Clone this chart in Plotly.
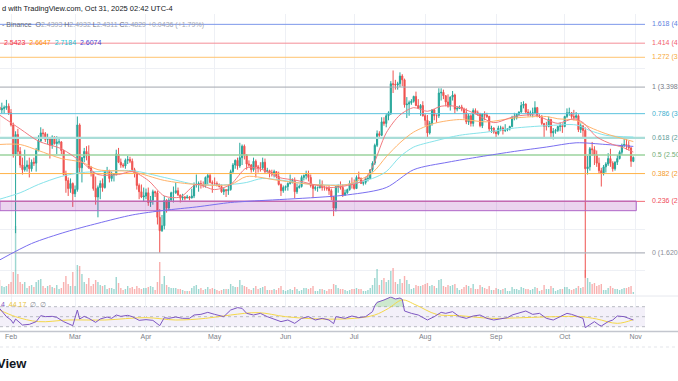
import math
import pandas as pd
import plotly.graph_objects as go

# ---------------- data (XRPUSD, Binance, daily) ----------------
dates = pd.date_range("2025-01-27", "2025-10-31", freq="D")

open_p = [
    3.11, 3.07, 3.09, 3.10, 3.12,
    3.03, 2.87, 2.52, 2.75, 2.55, 2.40, 2.35, 2.38, 2.40, 2.36, 2.43, 2.42, 2.56, 2.67, 2.77, 2.76, 2.69, 2.70, 2.62, 2.72, 2.64, 2.66, 2.66, 2.56, 2.30, 2.24, 2.16, 2.21,
    2.11, 2.15, 2.87, 2.37, 2.48, 2.55, 2.52, 2.37, 2.32, 2.16, 2.08, 2.17, 2.21, 2.17, 2.34, 2.34, 2.26, 2.30, 2.30, 2.52, 2.43, 2.40, 2.39, 2.45, 2.46, 2.44, 2.35, 2.31, 2.19, 2.13, 2.08,
    2.09, 2.12, 2.03, 2.05, 2.13, 2.12, 1.90, 1.79, 1.83, 2.05, 1.98, 2.05, 2.12, 2.12, 2.14, 2.10, 2.07, 2.08, 2.07, 2.08, 2.07, 2.09, 2.20, 2.20, 2.21, 2.20, 2.19, 2.27, 2.29, 2.22,
    2.21, 2.21, 2.20, 2.18, 2.13, 2.15, 2.14, 2.15, 2.33, 2.40, 2.45, 2.39, 2.48, 2.61, 2.51, 2.41, 2.40, 2.35, 2.44, 2.38, 2.37, 2.37, 2.43, 2.33, 2.34, 2.32, 2.31, 2.33, 2.28, 2.20, 2.14,
    2.17, 2.18, 2.21, 2.22, 2.24, 2.13, 2.17, 2.18, 2.27, 2.29, 2.30, 2.27, 2.19, 2.16, 2.17, 2.17, 2.20, 2.17, 2.17, 2.16, 2.14, 2.08, 1.98, 2.18, 2.18, 2.17, 2.10, 2.12, 2.15, 2.21,
    2.20, 2.16, 2.27, 2.26, 2.21, 2.22, 2.26, 2.26, 2.35, 2.42, 2.62, 2.76, 2.74, 2.91, 2.89, 2.99, 3.03, 3.45, 3.44, 3.43, 3.45, 3.57, 3.51, 3.14, 3.15, 3.17, 3.19, 3.26, 3.13, 3.09, 3.13,
    2.99, 2.93, 2.77, 2.89, 3.07, 2.99, 2.99, 3.31, 3.32, 3.27, 3.18, 3.12, 3.25, 3.28, 3.08, 3.09, 3.11, 3.08, 3.03, 2.91, 2.99, 2.89, 3.06, 3.03, 3.01, 2.86, 3.01, 3.00, 2.98, 2.82, 2.83,
    2.78, 2.76, 2.83, 2.83, 2.80, 2.81, 2.82, 2.85, 2.96, 2.96, 3.01, 3.04, 3.13, 3.15, 3.04, 3.01, 3.03, 3.03, 3.10, 2.98, 2.98, 2.89, 2.85, 2.85, 2.94, 2.77, 2.79, 2.80, 2.85, 2.86,
    2.85, 2.98, 3.03, 3.03, 2.98, 2.97, 2.99, 2.81, 2.86, 2.80, 2.36, 2.38, 2.58, 2.57, 2.51, 2.42, 2.34, 2.31, 2.38, 2.41, 2.47, 2.42, 2.36, 2.43, 2.47, 2.54, 2.62, 2.63, 2.62, 2.59, 2.4393,
]
high_p = [
    3.14, 3.17, 3.13, 3.21, 3.16,
    3.08, 2.90, 2.79, 2.82, 2.60, 2.48, 2.57, 2.45, 2.48, 2.46, 2.48, 2.59, 2.74, 2.84, 2.82, 2.78, 2.76, 2.72, 2.74, 2.73, 2.73, 2.72, 2.67, 2.57, 2.34, 2.27, 2.26, 2.22,
    2.19, 2.98, 2.89, 2.49, 2.59, 2.61, 2.62, 2.39, 2.33, 2.28, 2.19, 2.24, 2.26, 2.34, 2.38, 2.35, 2.33, 2.31, 2.57, 2.59, 2.47, 2.42, 2.47, 2.50, 2.49, 2.47, 2.37, 2.33, 2.21, 2.20, 2.17,
    2.16, 2.17, 2.09, 2.15, 2.14, 2.14, 1.97, 1.92, 2.09, 2.06, 2.07, 2.13, 2.18, 2.22, 2.17, 2.10, 2.11, 2.09, 2.10, 2.09, 2.16, 2.22, 2.30, 2.23, 2.24, 2.23, 2.28, 2.31, 2.31, 2.24,
    2.27, 2.23, 2.21, 2.20, 2.17, 2.15, 2.20, 2.35, 2.42, 2.46, 2.48, 2.65, 2.63, 2.63, 2.52, 2.45, 2.41, 2.48, 2.46, 2.40, 2.43, 2.48, 2.47, 2.37, 2.35, 2.35, 2.35, 2.33, 2.33, 2.21, 2.19,
    2.19, 2.22, 2.30, 2.26, 2.27, 2.21, 2.20, 2.29, 2.30, 2.34, 2.34, 2.30, 2.20, 2.19, 2.18, 2.25, 2.24, 2.19, 2.18, 2.19, 2.16, 2.09, 2.18, 2.20, 2.23, 2.20, 2.15, 2.16, 2.24, 2.27,
    2.25, 2.29, 2.33, 2.27, 2.23, 2.27, 2.30, 2.35, 2.44, 2.64, 2.80, 2.79, 2.97, 2.97, 3.02, 3.05, 3.49, 3.66, 3.51, 3.48, 3.63, 3.60, 3.53, 3.25, 3.20, 3.22, 3.27, 3.33, 3.22, 3.15, 3.19,
    3.02, 3.00, 2.92, 3.07, 3.08, 3.01, 3.38, 3.38, 3.36, 3.28, 3.29, 3.26, 3.34, 3.30, 3.12, 3.13, 3.14, 3.10, 3.09, 3.02, 3.01, 3.09, 3.09, 3.06, 3.03, 3.02, 3.05, 3.03, 2.99, 2.86, 2.84,
    2.79, 2.86, 2.86, 2.85, 2.88, 2.83, 2.86, 2.99, 3.03, 3.02, 3.05, 3.18, 3.19, 3.16, 3.08, 3.06, 3.10, 3.19, 3.11, 3.01, 3.00, 2.89, 2.91, 2.98, 2.95, 2.83, 2.82, 2.86, 2.90, 2.89,
    2.99, 3.09, 3.10, 3.04, 3.07, 3.04, 3.01, 2.89, 2.86, 2.84, 2.50, 2.60, 2.66, 2.61, 2.56, 2.48, 2.37, 2.40, 2.43, 2.53, 2.58, 2.44, 2.44, 2.51, 2.56, 2.64, 2.70, 2.70, 2.67, 2.60, 2.4932,
]
low_p = [
    2.76, 3.02, 3.02, 3.07, 3.00,
    2.85, 2.48, 1.77, 2.50, 2.37, 2.30, 2.33, 2.33, 2.27, 2.33, 2.39, 2.33, 2.55, 2.66, 2.71, 2.66, 2.63, 2.47, 2.58, 2.63, 2.52, 2.63, 2.52, 2.29, 2.12, 2.09, 2.12, 1.99,
    2.08, 2.13, 2.32, 2.22, 2.43, 2.45, 2.36, 2.28, 2.14, 2.01, 1.90, 2.06, 2.13, 2.16, 2.30, 2.22, 2.23, 2.23, 2.29, 2.42, 2.37, 2.37, 2.36, 2.41, 2.42, 2.33, 2.27, 2.15, 2.06, 2.07, 2.04,
    2.06, 2.00, 1.99, 2.01, 2.08, 1.84, 1.6205, 1.78, 1.80, 1.94, 1.96, 2.05, 2.03, 2.11, 2.09, 2.03, 2.05, 2.05, 2.07, 2.05, 2.07, 2.07, 2.17, 2.13, 2.16, 2.17, 2.17, 2.20, 2.21, 2.12,
    2.19, 2.18, 2.17, 2.12, 2.10, 2.08, 2.10, 2.14, 2.31, 2.36, 2.35, 2.37, 2.40, 2.46, 2.35, 2.38, 2.32, 2.33, 2.27, 2.32, 2.33, 2.35, 2.31, 2.32, 2.27, 2.28, 2.27, 2.26, 2.19, 2.09, 2.12,
    2.14, 2.14, 2.20, 2.21, 2.07, 2.11, 2.16, 2.17, 2.24, 2.25, 2.23, 2.17, 2.07, 2.14, 2.13, 2.16, 2.14, 2.14, 2.14, 2.10, 2.05, 1.91, 1.95, 2.12, 2.15, 2.08, 2.09, 2.11, 2.14, 2.16,
    2.15, 2.16, 2.25, 2.21, 2.19, 2.20, 2.23, 2.26, 2.33, 2.40, 2.60, 2.72, 2.73, 2.86, 2.84, 2.93, 3.00, 3.31, 3.36, 3.36, 3.40, 3.41, 3.10, 2.96, 2.99, 3.14, 3.17, 3.12, 3.09, 2.99, 2.98,
    2.86, 2.72, 2.75, 2.86, 2.93, 2.90, 2.96, 3.20, 3.22, 3.12, 3.10, 3.06, 3.20, 3.02, 3.05, 3.08, 3.05, 2.95, 2.88, 2.87, 2.85, 2.85, 3.01, 2.99, 2.84, 2.83, 2.93, 2.96, 2.79, 2.77, 2.76,
    2.70, 2.74, 2.79, 2.75, 2.78, 2.79, 2.80, 2.84, 2.93, 2.94, 2.99, 3.03, 3.09, 3.02, 2.98, 2.98, 2.97, 3.02, 2.97, 2.96, 2.87, 2.70, 2.80, 2.84, 2.70, 2.69, 2.76, 2.78, 2.79, 2.77,
    2.84, 2.96, 2.99, 2.95, 2.93, 2.95, 2.78, 2.77, 2.72, 1.45, 2.30, 2.34, 2.50, 2.40, 2.38, 2.31, 2.18, 2.29, 2.32, 2.39, 2.38, 2.33, 2.34, 2.40, 2.46, 2.51, 2.60, 2.57, 2.56, 2.38, 2.4311,
]
close_p = [
    3.07, 3.09, 3.10, 3.12, 3.03,
    2.87, 2.52, 2.75, 2.55, 2.40, 2.35, 2.38, 2.40, 2.36, 2.43, 2.42, 2.56, 2.67, 2.77, 2.76, 2.69, 2.70, 2.62, 2.72, 2.64, 2.66, 2.66, 2.56, 2.30, 2.24, 2.16, 2.21, 2.11,
    2.15, 2.87, 2.37, 2.48, 2.55, 2.52, 2.37, 2.32, 2.16, 2.08, 2.17, 2.21, 2.17, 2.34, 2.34, 2.26, 2.30, 2.30, 2.52, 2.43, 2.40, 2.39, 2.45, 2.46, 2.44, 2.35, 2.31, 2.19, 2.13, 2.08, 2.09,
    2.12, 2.03, 2.05, 2.13, 2.12, 1.90, 1.79, 1.83, 2.05, 1.98, 2.05, 2.12, 2.12, 2.14, 2.10, 2.07, 2.08, 2.07, 2.08, 2.07, 2.09, 2.20, 2.20, 2.21, 2.20, 2.19, 2.27, 2.29, 2.22, 2.21,
    2.21, 2.20, 2.18, 2.13, 2.15, 2.14, 2.15, 2.33, 2.40, 2.45, 2.39, 2.48, 2.61, 2.51, 2.41, 2.40, 2.35, 2.44, 2.38, 2.37, 2.37, 2.43, 2.33, 2.34, 2.32, 2.31, 2.33, 2.28, 2.20, 2.14, 2.17,
    2.18, 2.21, 2.22, 2.24, 2.13, 2.17, 2.18, 2.27, 2.29, 2.30, 2.27, 2.19, 2.16, 2.17, 2.17, 2.20, 2.17, 2.17, 2.16, 2.14, 2.08, 1.98, 2.18, 2.18, 2.17, 2.10, 2.12, 2.15, 2.21, 2.20,
    2.16, 2.27, 2.26, 2.21, 2.22, 2.26, 2.26, 2.35, 2.42, 2.62, 2.76, 2.74, 2.91, 2.89, 2.99, 3.03, 3.45, 3.44, 3.43, 3.45, 3.57, 3.51, 3.14, 3.15, 3.17, 3.19, 3.26, 3.13, 3.09, 3.13, 2.99,
    2.93, 2.77, 2.89, 3.07, 2.99, 2.99, 3.31, 3.32, 3.27, 3.18, 3.12, 3.25, 3.28, 3.08, 3.09, 3.11, 3.08, 3.03, 2.91, 2.99, 2.89, 3.06, 3.03, 3.01, 2.86, 3.01, 3.00, 2.98, 2.82, 2.83, 2.78,
    2.76, 2.83, 2.83, 2.80, 2.81, 2.82, 2.85, 2.96, 2.96, 3.01, 3.04, 3.13, 3.15, 3.04, 3.01, 3.03, 3.03, 3.10, 2.98, 2.98, 2.89, 2.85, 2.85, 2.94, 2.77, 2.79, 2.80, 2.85, 2.86, 2.85,
    2.98, 3.03, 3.03, 2.98, 2.97, 2.99, 2.81, 2.86, 2.80, 2.36, 2.38, 2.58, 2.57, 2.51, 2.42, 2.34, 2.31, 2.38, 2.41, 2.47, 2.42, 2.36, 2.43, 2.47, 2.54, 2.62, 2.63, 2.62, 2.59, 2.44, 2.4829,
]
volume_m = [
    140, 80, 70, 80, 100,
    120, 220, 680, 200, 120, 100, 120, 60, 80, 90, 70, 120, 140, 150, 80, 60, 80, 90, 70, 60, 90, 50, 60, 120, 180, 100, 80, 220,
    80, 290, 280, 200, 120, 100, 160, 80, 100, 140, 120, 90, 80, 90, 50, 60, 60, 50, 170, 110, 60, 40, 50, 80, 60, 70, 50, 80, 60, 50, 60,
    60, 70, 80, 70, 40, 120, 320, 100, 180, 90, 70, 60, 60, 60, 50, 50, 40, 30, 30, 30, 60, 80, 90, 50, 60, 40, 50, 70, 50, 60,
    50, 40, 30, 40, 50, 50, 50, 100, 80, 70, 70, 140, 90, 80, 70, 50, 40, 60, 80, 50, 60, 70, 80, 40, 40, 40, 50, 40, 60, 80, 40,
    30, 40, 50, 40, 70, 50, 30, 40, 60, 60, 50, 60, 80, 30, 30, 50, 50, 40, 30, 50, 50, 100, 90, 60, 50, 50, 40, 30, 40, 50,
    50, 60, 50, 50, 30, 30, 40, 60, 90, 160, 250, 90, 140, 160, 120, 140, 230, 260, 120, 100, 150, 110, 180, 140, 100, 50, 60, 90, 80, 80, 90,
    100, 110, 80, 90, 80, 60, 140, 150, 80, 70, 90, 80, 90, 100, 60, 40, 50, 70, 90, 80, 60, 100, 50, 50, 90, 70, 60, 50, 80, 40, 40,
    60, 50, 40, 50, 60, 30, 30, 70, 50, 50, 40, 70, 60, 50, 50, 40, 50, 70, 60, 30, 40, 90, 50, 50, 80, 60, 30, 40, 50, 50,
    70, 70, 50, 40, 50, 60, 80, 60, 70, 240, 160, 120, 100, 110, 80, 90, 100, 40, 40, 60, 80, 60, 50, 50, 40, 50, 60, 60, 70, 80, 20,
]

# moving averages
ema20_dates = ["2025-01-27", "2025-02-05", "2025-02-13", "2025-02-23", "2025-03-04", "2025-03-11", "2025-03-20", "2025-03-26",
               "2025-04-02", "2025-04-09", "2025-04-16", "2025-04-23", "2025-05-01", "2025-05-08", "2025-05-15", "2025-05-22",
               "2025-05-29", "2025-06-06", "2025-06-13", "2025-06-20", "2025-06-28", "2025-07-05", "2025-07-09", "2025-07-15",
               "2025-07-21", "2025-07-27", "2025-08-02", "2025-08-08", "2025-08-14", "2025-08-22", "2025-08-31", "2025-09-09",
               "2025-09-18", "2025-09-23", "2025-09-28", "2025-10-05", "2025-10-09", "2025-10-15", "2025-10-22", "2025-10-26", "2025-10-31"]
ema20_vals = [3.00, 2.82, 2.67, 2.58, 2.43, 2.30, 2.30, 2.33, 2.24, 2.09, 2.08, 2.20, 2.15, 2.20, 2.37, 2.35, 2.27, 2.24, 2.20,
              2.17, 2.19, 2.24, 2.38, 2.77, 3.00, 3.10, 3.05, 3.12, 3.12, 3.03, 2.90, 2.98, 3.00, 2.94, 2.89, 2.95, 2.90, 2.72,
              2.63, 2.60, 2.5423]
ema50_dates = ["2025-01-27", "2025-02-05", "2025-02-13", "2025-02-23", "2025-03-04", "2025-03-11", "2025-03-26", "2025-04-09",
               "2025-04-23", "2025-05-08", "2025-05-15", "2025-05-29", "2025-06-13", "2025-06-28", "2025-07-09", "2025-07-15",
               "2025-07-21", "2025-07-27", "2025-08-05", "2025-08-16", "2025-08-28", "2025-09-09", "2025-09-23", "2025-09-28",
               "2025-10-06", "2025-10-12", "2025-10-19", "2025-10-31"]
ema50_vals = [2.63, 2.63, 2.56, 2.47, 2.43, 2.35, 2.33, 2.24, 2.20, 2.20, 2.28, 2.24, 2.20, 2.20, 2.32, 2.49, 2.65, 2.78, 2.89,
              2.94, 2.91, 2.96, 2.98, 2.95, 2.93, 2.84, 2.76, 2.6647]
ema100_dates = ["2025-01-27", "2025-02-05", "2025-02-13", "2025-02-23", "2025-03-04", "2025-03-11", "2025-03-26", "2025-04-09",
                "2025-04-23", "2025-05-08", "2025-05-15", "2025-05-22", "2025-06-13", "2025-06-28", "2025-07-09", "2025-07-15",
                "2025-07-21", "2025-07-27", "2025-08-05", "2025-08-16", "2025-08-28", "2025-09-09", "2025-09-23", "2025-10-06",
                "2025-10-12", "2025-10-19", "2025-10-31"]
ema100_vals = [2.06, 2.12, 2.20, 2.28, 2.32, 2.33, 2.34, 2.27, 2.20, 2.20, 2.22, 2.26, 2.20, 2.20, 2.26, 2.33, 2.49, 2.60, 2.67,
               2.74, 2.78, 2.83, 2.86, 2.87, 2.80, 2.74, 2.7184]
ema200_dates = ["2025-01-27", "2025-02-10", "2025-02-25", "2025-03-11", "2025-03-26", "2025-04-09", "2025-04-23", "2025-05-08",
                "2025-05-15", "2025-06-28", "2025-07-15", "2025-07-27", "2025-08-11", "2025-08-25", "2025-09-09", "2025-09-23",
                "2025-10-06", "2025-10-19", "2025-10-31"]
ema200_vals = [1.57, 1.69, 1.78, 1.85, 1.92, 1.96, 1.99, 2.03, 2.04, 2.10, 2.17, 2.35, 2.43, 2.49, 2.55, 2.60, 2.65, 2.63, 2.6074]

# RSI (14) and its moving average
rsi_dates = ["2025-01-27", "2025-01-28", "2025-01-30", "2025-02-01", "2025-02-02", "2025-02-03", "2025-02-04", "2025-02-06",
             "2025-02-09", "2025-02-12", "2025-02-14", "2025-02-16", "2025-02-19", "2025-02-21", "2025-02-24", "2025-02-26",
             "2025-02-28", "2025-03-02", "2025-03-03", "2025-03-05", "2025-03-07", "2025-03-10", "2025-03-12", "2025-03-15",
             "2025-03-17", "2025-03-19", "2025-03-21", "2025-03-24", "2025-03-26", "2025-03-29", "2025-04-01", "2025-04-04",
             "2025-04-06", "2025-04-07", "2025-04-09", "2025-04-11", "2025-04-14", "2025-04-17", "2025-04-20", "2025-04-22",
             "2025-04-25", "2025-04-28", "2025-05-01", "2025-05-05", "2025-05-08", "2025-05-11", "2025-05-13", "2025-05-15",
             "2025-05-18", "2025-05-21", "2025-05-24", "2025-05-28", "2025-05-30", "2025-06-02", "2025-06-05", "2025-06-08",
             "2025-06-11", "2025-06-14", "2025-06-17", "2025-06-20", "2025-06-22", "2025-06-23", "2025-06-27", "2025-06-30",
             "2025-07-03", "2025-07-06", "2025-07-09", "2025-07-10", "2025-07-11", "2025-07-14", "2025-07-16", "2025-07-17",
             "2025-07-19", "2025-07-21", "2025-07-22", "2025-07-23", "2025-07-26", "2025-07-29", "2025-08-02", "2025-08-05",
             "2025-08-08", "2025-08-10", "2025-08-13", "2025-08-16", "2025-08-19", "2025-08-22", "2025-08-25", "2025-08-28",
             "2025-08-31", "2025-09-03", "2025-09-06", "2025-09-08", "2025-09-11", "2025-09-14", "2025-09-17", "2025-09-20",
             "2025-09-23", "2025-09-26", "2025-09-29", "2025-10-02", "2025-10-04", "2025-10-07", "2025-10-09", "2025-10-10",
             "2025-10-12", "2025-10-14", "2025-10-16", "2025-10-17", "2025-10-20", "2025-10-22", "2025-10-24", "2025-10-27",
             "2025-10-29", "2025-10-31"]
rsi_vals = [66.7, 61.4, 50.1, 43.4, 36.7, 45.4, 41.4, 33.4, 34.7, 40.1, 52.1, 50.1, 50.7, 48.7, 40.1, 36.7, 32.1, 63.4, 45.4,
            50.7, 46.7, 38.7, 45.4, 49.4, 46.7, 53.4, 50.7, 52.7, 50.1, 42.7, 44.1, 42.7, 36.1, 32.1, 48.1, 46.7, 49.4, 46.7,
            46.7, 53.4, 54.7, 58.7, 54.7, 50.1, 63.4, 68.1, 66.7, 56.7, 53.4, 56.7, 50.1, 43.4, 40.1, 43.4, 36.7, 46.7, 50.1,
            43.4, 46.7, 43.4, 36.1, 50.1, 46.7, 51.4, 48.1, 50.1, 60.1, 72.1, 78.7, 83.4, 86.7, 89.4, 85.4, 87.4, 84.7, 61.4,
            56.7, 53.4, 43.4, 50.1, 58.7, 56.7, 60.1, 50.1, 46.7, 51.4, 53.4, 46.7, 43.4, 45.4, 48.1, 53.4, 56.7, 61.4, 54.7,
            56.7, 46.7, 43.4, 50.1, 56.7, 54.7, 50.1, 46.7, 28.1, 34.7, 40.1, 33.4, 31.4, 40.1, 43.4, 51.4, 50.1, 46.7, 43.4]
rsi_ma_dates = ["2025-01-27", "2025-02-03", "2025-02-13", "2025-02-26", "2025-03-14", "2025-04-01", "2025-04-14", "2025-04-27",
                "2025-05-08", "2025-05-20", "2025-06-01", "2025-06-16", "2025-07-01", "2025-07-10", "2025-07-16", "2025-07-22",
                "2025-07-28", "2025-08-06", "2025-08-16", "2025-08-30", "2025-09-13", "2025-09-27", "2025-10-08", "2025-10-15",
                "2025-10-24", "2025-10-31"]
rsi_ma_vals = [63.4, 50.1, 40.1, 43.4, 43.4, 48.1, 43.4, 46.7, 53.4, 58.1, 50.1, 45.4, 46.7, 53.4, 66.7, 83.4, 73.4, 54.7,
               52.1, 46.7, 48.1, 50.1, 50.1, 45.4, 36.7, 44.17]

# Fibonacci retracement (levels and prices as labelled on the chart)
fib_levels = ["1.618", "1.414", "1.272", "1", "0.786", "0.618", "0.5", "0.382", "0.236", "0"]
fib_prices = [4.4973, 4.1346, 3.8821, 3.3985, 3.0180, 2.7093, 2.5095, 2.3097, 2.0401, 1.6205]
fib_colors = ["#7d98ea", "#f48d96", "#ffc470", "#a3a6af", "#5ac2dd", "#a9ddd8", "#9bd39e", "#ffb347", "#f26b77", "#b2b5be"]
fib_label_colors = ["#5f82e0", "#f2606d", "#f7a93a", "#787b86", "#3fb0cf", "#5f9c98", "#73ad76", "#f59a1f", "#f04b58", "#8a8d96"]
fib_widths = [1, 1, 1, 1, 1, 2.2, 1.6, 1, 1, 1.2]

zone_low, zone_high = 1.957, 2.043

month_ticks = ["2025-02-01", "2025-03-01", "2025-04-01", "2025-05-01", "2025-06-01", "2025-07-01",
               "2025-08-01", "2025-09-01", "2025-10-01", "2025-11-01"]
month_labels = ["Feb", "Mar", "Apr", "May", "Jun", "Jul", "Aug", "Sep", "Oct", "Nov"]

# ---------------- layout helpers ----------------
W, H = 678, 381
X_START = "2025-01-27 04:35"
X_END = "2025-11-05 02:25"
ZONE_END = "2025-11-01 07:00"
PLOT_R = 645 / W


def py(y):
    return 1 - y / H


FONT = "Liberation Sans, Arial, sans-serif"
TEAL, RED = "#26a69a", "#ef5350"

fig = go.Figure()

# volume (base axis, drawn behind)
vol_colors = ["rgba(38,166,154,0.45)" if c >= o else "rgba(239,83,80,0.45)" for o, c in zip(open_p, close_p)]
fig.add_trace(go.Bar(x=dates, y=volume_m, marker=dict(color=vol_colors, line=dict(width=0)),
                     width=0.62 * 86400000, xaxis="x", yaxis="y", hoverinfo="skip", showlegend=False))

# candles
fig.add_trace(go.Candlestick(
    x=dates, open=open_p, high=high_p, low=low_p, close=close_p, xaxis="x", yaxis="y2",
    increasing=dict(line=dict(color=TEAL, width=1), fillcolor=TEAL),
    decreasing=dict(line=dict(color=RED, width=1), fillcolor=RED),
    whiskerwidth=0, showlegend=False, hoverinfo="skip"))

# fib lines
for lvl, price, col, wd in zip(fib_levels, fib_prices, fib_colors, fib_widths):
    fig.add_trace(go.Scatter(x=[X_START, X_END], y=[price, price], mode="lines",
                             line=dict(color=col, width=wd), xaxis="x", yaxis="y2",
                             hoverinfo="skip", showlegend=False))

# zone box
fig.add_trace(go.Scatter(x=[X_START, ZONE_END, ZONE_END, X_START, X_START],
                         y=[zone_high, zone_high, zone_low, zone_low, zone_high],
                         mode="lines", fill="toself", fillcolor="rgba(156,39,176,0.2)",
                         line=dict(color="#b066c8", width=1), xaxis="x", yaxis="y2",
                         hoverinfo="skip", showlegend=False))

# moving averages
for d, v, col in [(ema200_dates, ema200_vals, "#7a6ff0"), (ema100_dates, ema100_vals, "#86e3ea"),
                  (ema50_dates, ema50_vals, "#ffb46b"), (ema20_dates, ema20_vals, "#f27a80")]:
    fig.add_trace(go.Scatter(x=d, y=v, mode="lines", line=dict(color=col, width=1, shape="spline", smoothing=0.8),
                             xaxis="x", yaxis="y2", hoverinfo="skip", showlegend=False))

# RSI overbought fill
ob_idx = [i for i, v in enumerate(rsi_vals) if v > 70]
ob_rng = range(ob_idx[0] - 1, ob_idx[-1] + 2)
ob_x = [rsi_dates[i] for i in ob_rng]
fig.add_trace(go.Scatter(x=ob_x, y=[70] * len(ob_x), mode="lines", line=dict(width=0),
                         xaxis="x2", yaxis="y3", hoverinfo="skip", showlegend=False))
fig.add_trace(go.Scatter(x=ob_x, y=[max(rsi_vals[i], 70) for i in ob_rng], mode="lines", line=dict(width=0),
                         fill="tonexty", fillcolor="rgba(76,175,80,0.28)",
                         xaxis="x2", yaxis="y3", hoverinfo="skip", showlegend=False))
# RSI MA and RSI
fig.add_trace(go.Scatter(x=rsi_ma_dates, y=rsi_ma_vals, mode="lines",
                         line=dict(color="#f5d84a", width=1, shape="spline", smoothing=1.0),
                         xaxis="x2", yaxis="y3", hoverinfo="skip", showlegend=False))
fig.add_trace(go.Scatter(x=rsi_dates, y=rsi_vals, mode="lines", line=dict(color="#7e57c2", width=1),
                         xaxis="x2", yaxis="y3", hoverinfo="skip", showlegend=False))

# ---------------- axes ----------------
price_dom = [py(296), py(14)]
rsi_dom = [py(331), py(296)]
grid = "#eef0f5"

fig.update_layout(
    width=W, height=H, margin=dict(l=0, r=0, t=0, b=0),
    paper_bgcolor="white", plot_bgcolor="white", showlegend=False,
    font=dict(family=FONT),
    xaxis=dict(domain=[0, PLOT_R], range=[X_START, X_END], type="date", anchor="y",
               tickvals=month_ticks, showticklabels=False, showgrid=True, gridcolor=grid,
               zeroline=False, showline=False, ticks="", rangeslider=dict(visible=False)),
    yaxis=dict(domain=price_dom, range=[-20, 2800], visible=False, fixedrange=True),
    yaxis2=dict(overlaying="y", anchor="x", type="log",
                range=[math.log10(1.337), math.log10(4.71)],
                tickvals=[1.5, 1.8, 3.7, 4.7], showticklabels=False, showgrid=True, gridcolor=grid,
                zeroline=False, showline=False, ticks=""),
    xaxis2=dict(domain=[0, PLOT_R], range=[X_START, X_END], type="date", anchor="y3",
                tickvals=month_ticks, ticktext=month_labels, showgrid=True, gridcolor=grid,
                tickfont=dict(size=7, color="#7d8088", family=FONT), ticks="", ticklen=0,
                zeroline=False, showline=False),
    yaxis3=dict(domain=rsi_dom, anchor="x2", range=[21.4, 91.4], showticklabels=False,
                showgrid=False, zeroline=False, ticks=""),
)

shapes = [
    dict(type="rect", xref="paper", x0=0, x1=PLOT_R, yref="y3", y0=30, y1=70,
         fillcolor="rgba(126,87,194,0.09)", line=dict(width=0), layer="below"),
]
for lv in (70, 50, 30):
    shapes.append(dict(type="line", xref="paper", x0=0, x1=PLOT_R, yref="y3", y0=lv, y1=lv,
                       line=dict(color="#b8bac3", width=1, dash="3px,3px"), layer="below"))
shapes += [
    dict(type="line", xref="paper", x0=0, x1=1, yref="paper", y0=py(296), y1=py(296),
         line=dict(color="#e6e8ee", width=1)),
    dict(type="line", xref="paper", x0=0, x1=1, yref="paper", y0=py(331.5), y1=py(331.5),
         line=dict(color="#c3c6ce", width=1.5)),
    dict(type="line", xref="paper", x0=0, x1=1, yref="paper", y0=py(347), y1=py(347),
         line=dict(color="#e3e5ea", width=1, dash="dot")),
]
fig.update_layout(shapes=shapes)

ann = []
# fib labels on the right
for lvl, price, col in zip(fib_levels, fib_prices, fib_label_colors):
    ann.append(dict(xref="paper", x=650 / W, yref="y2", y=math.log10(price),
                    text=f"{lvl} ({price:.4f})", showarrow=False, xanchor="left", yanchor="middle",
                    font=dict(size=7, color=col, family=FONT)))

# header and legends
ann.append(dict(xref="paper", x=0, yref="paper", y=py(8), text="d with TradingView.com, Oct 31, 2025 02:42 UTC-4",
                showarrow=False, xanchor="left", yanchor="middle", font=dict(size=7.5, color="#131722", family=FONT)))
lg = "#6a6d78"
vv = "#a3a6af"
legend1 = (f"<span style='color:{lg}'>- Binance</span>  "
           f"<span style='color:{lg}'>O</span><span style='color:{vv}'>{open_p[-1]:.4f}</span> "
           f"<span style='color:{lg}'>H</span><span style='color:{vv}'>{high_p[-1]:.4f}</span> "
           f"<span style='color:{lg}'>L</span><span style='color:{vv}'>{low_p[-1]:.4f}</span> "
           f"<span style='color:{lg}'>C</span><span style='color:{vv}'>{close_p[-1]:.4f}</span> "
           f"<span style='color:{vv}'>+0.0436 (+1.79%)</span>")
ann.append(dict(xref="paper", x=0, yref="paper", y=py(24.5), text=legend1, showarrow=False,
                xanchor="left", yanchor="middle", font=dict(size=7, family=FONT)))
legend2 = (f"<span style='color:#f23645'>{ema20_vals[-1]:.4f}</span>  "
           f"<span style='color:#ff9800'>{ema50_vals[-1]:.4f}</span>  "
           f"<span style='color:#22c3d6'>{ema100_vals[-1]:.4f}</span>  "
           f"<span style='color:#4a46d8'>{ema200_vals[-1]:.4f}</span>")
ann.append(dict(xref="paper", x=2 / W, yref="paper", y=py(43), text=legend2, showarrow=False,
                xanchor="left", yanchor="middle", font=dict(size=7, family=FONT)))
legend3 = (f"<span style='color:#7e57c2'>4</span>  <span style='color:#e9c53a'>{rsi_ma_vals[-1]:.2f}</span>  "
           f"<span style='color:#8a8d96'>∅  ∅</span>")
ann.append(dict(xref="paper", x=-1 / W, yref="paper", y=py(304), text=legend3, showarrow=False,
                xanchor="left", yanchor="middle", font=dict(size=7, family=FONT)))
ann.append(dict(xref="paper", x=-5 / W, yref="paper", y=py(363), text="<b>View</b>", showarrow=False,
                xanchor="left", yanchor="middle", font=dict(size=13, color="#131722", family=FONT)))
fig.update_layout(annotations=ann)

fig.write_html("out.html", config={"displayModeBar": False},
               post_script="document.body.style.margin='0px';document.body.style.overflow='hidden';")
